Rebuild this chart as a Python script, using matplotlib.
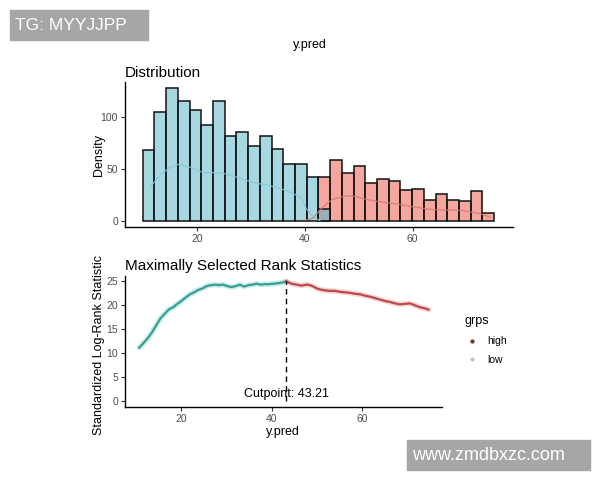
import matplotlib
matplotlib.use('Agg')
import matplotlib.pyplot as plt
from matplotlib.lines import Line2D
from matplotlib.patches import Rectangle
from matplotlib.colors import to_rgba
import numpy as np

plt.rcParams['font.family'] = ['Liberation Sans', 'DejaVu Sans']

# Histogram (y.pred), bins of equal width starting at binStart
binStart = 10.0
binWidth = 2.17
lowCounts  = [68, 104.5, 127, 115, 106, 92, 115, 81.5, 85, 71.6, 81.5, 69, 55, 55, 42, 11.5]
highCounts = [42, 58, 45.7, 52.7, 36, 40, 38, 29.7, 31, 19.8, 26, 19.8, 18.8, 28.8, 8]
highFirstBin = 15

# density curves (count scale)
lowDensX  = [11.5, 13.2, 15.1, 16.6, 18.8, 21.2, 23.7, 25.5, 28.0, 30.5, 32.9, 35.4, 37.8, 39.4, 40.3, 41.5, 42.8]
lowDensY  = [33, 44, 51.4, 54.3, 51.4, 46.3, 46.3, 45, 41, 36.7, 34.5, 31.3, 26.5, 21.7, 12, 4, 0.3]
highDensX = [40.3, 41.5, 43.4, 45.2, 47.7, 49.5, 52.0, 55.0, 57.5, 60.0, 63.0, 66.2, 69.2, 72.3, 74.2]
highDensY = [1, 2.5, 13.7, 20.8, 24.3, 23.3, 20, 17.6, 16, 13.7, 11.2, 10.5, 10, 7.3, 4]

# Maximally selected rank statistics
lowStatX  = [10.8, 11.8, 12.8, 13.7, 14.6, 15.5, 16.5, 17.4, 18.3, 19.2, 20.1, 21.0, 22.0, 22.9, 23.8, 24.7, 25.7,
             26.6, 27.5, 28.4, 29.3, 30.2, 31.2, 32.1, 33.0, 33.9, 34.9, 35.8, 36.7, 37.6, 38.5, 39.5, 40.4, 41.5, 42.6, 43.21]
lowStatY  = [11.1, 12.1, 13.2, 14.4, 15.8, 17.2, 18.2, 19.1, 19.5, 20.2, 20.8, 21.5, 22.2, 22.6, 23.1, 23.4, 23.9,
             24.1, 24.2, 24.1, 24.2, 23.9, 23.7, 23.9, 24.2, 23.8, 24.1, 24.2, 24.4, 24.2, 24.3, 24.3, 24.4, 24.5, 24.7, 24.9]
highStatX = [43.21, 44.4, 45.5, 46.6, 47.7, 48.5, 49.2, 50.0, 50.7, 51.8, 52.9, 54.0, 55.1, 56.2, 57.3, 58.4, 59.5,
             60.6, 61.7, 62.8, 63.9, 65.0, 66.1, 67.2, 68.3, 69.4, 70.5, 71.6, 72.7, 73.7, 74.6]
highStatY = [24.9, 24.4, 24.2, 24.0, 24.2, 24.1, 23.8, 23.4, 23.2, 23.0, 22.9, 22.9, 22.7, 22.6, 22.5, 22.3, 22.2,
             21.9, 21.7, 21.4, 21.1, 20.8, 20.6, 20.3, 20.1, 20.2, 20.3, 19.9, 19.5, 19.3, 19.0]
cutpoint = 43.21

tickColor = '#4D4D4D'

fig = plt.figure(figsize=(6, 4.8), dpi=100)

def styleAxis(ax):
  ax.spines['top'].set_visible(False)
  ax.spines['right'].set_visible(False)
  for s in ['left', 'bottom']:
    ax.spines[s].set_linewidth(1.0)
    ax.spines[s].set_color('black')
  ax.tick_params(axis='both', labelsize=7.5, labelcolor=tickColor, color='#333333', length=3, width=0.8, pad=2)

# Top: Distribution
ax1 = fig.add_axes([0.2083, 0.527, 0.6467, 0.302])
lowLefts  = [binStart + i * binWidth for i in range(len(lowCounts))]
highLefts = [binStart + (highFirstBin + i) * binWidth for i in range(len(highCounts))]
ax1.bar(highLefts, highCounts, width=binWidth, align='edge', color=to_rgba('#E95141', 0.5), edgecolor='#111111', linewidth=1.1)
ax1.bar(lowLefts, lowCounts, width=binWidth, align='edge', color=to_rgba('#51B1C5', 0.5), edgecolor='#111111', linewidth=1.1)
ax1.plot(lowDensX, lowDensY, color='#86C8D8', linewidth=1.0, alpha=0.8)
ax1.plot(highDensX, highDensY, color='#D6786C', linewidth=1.0, alpha=0.8)
ax1.set_xlim(6.7, 78.6)
ax1.set_ylim(-5.8, 133)
ax1.set_xticks([20, 40, 60])
ax1.set_yticks([0, 50, 100])
ax1.set_ylabel('Density', fontsize=9)
ax1.yaxis.set_label_coords(-0.052, 0.5)
ax1.set_title('Distribution', loc='left', fontsize=11, pad=4)
styleAxis(ax1)

# Bottom: Maximally Selected Rank Statistics
ax2 = fig.add_axes([0.2083, 0.1527, 0.5278, 0.2723])
ax2.plot(lowStatX, lowStatY, color='#5ED6D2', linewidth=4, alpha=0.35, solid_capstyle='round')
ax2.plot(highStatX, highStatY, color='#F28C8C', linewidth=4, alpha=0.35, solid_capstyle='round')
ax2.plot(lowStatX, lowStatY, color='#3F9C8E', linewidth=1.6)
ax2.plot(highStatX, highStatY, color='#B94A50', linewidth=1.6)
ax2.plot([cutpoint, cutpoint], [0, highStatY[0]], color='black', linestyle=(0, (4, 3)), linewidth=1.0)
ax2.text(cutpoint, 0.2, 'Cutpoint: ' + str(cutpoint), ha='center', va='bottom', fontsize=9)
ax2.set_xlim(7.66, 77.5)
ax2.set_ylim(-1.2, 26)
ax2.set_xticks([20, 40, 60])
ax2.set_yticks([0, 5, 10, 15, 20, 25])
ax2.set_xlabel('y.pred', fontsize=9, labelpad=2)
ax2.set_ylabel('Standardized Log-Rank Statistic', fontsize=9)
ax2.yaxis.set_label_coords(-0.064, 0.47)
ax2.set_title('Maximally Selected Rank Statistics', loc='left', fontsize=11, pad=4)
styleAxis(ax2)

handles = [Line2D([], [], linestyle='none', marker='o', markersize=2, color='#7A2A2A'),
           Line2D([], [], linestyle='none', marker='o', markersize=2, color='#B8C8C8')]
fig.legend(handles, ['high', 'low'], title='grps', loc='upper left', bbox_to_anchor=(455 / 600, 1 - 306 / 480),
           frameon=False, fontsize=7.5, title_fontsize=9, handlelength=1.5, handletextpad=0.7,
           labelspacing=0.85, alignment='left')

fig.text(0.517, 0.906, 'y.pred', ha='center', va='center', fontsize=9)

# watermarks
fig.add_artist(Rectangle((10 / 600, 1 - 40 / 480), 138 / 600, 30 / 480, transform=fig.transFigure, color='#A6A6A6', zorder=10))
fig.text(15 / 600, 1 - 25 / 480, 'TG: MYYJJPP', color='white', fontsize=12.5, va='center', ha='left', zorder=11)
fig.add_artist(Rectangle((407 / 600, 1 - 470 / 480), 183 / 600, 30 / 480, transform=fig.transFigure, color='#A6A6A6', zorder=10))
fig.text(412 / 600, 1 - 455 / 480, 'www.zmdbxzc.com', color='white', fontsize=13, va='center', ha='left', zorder=11)

plt.savefig('out.png', dpi=100)
